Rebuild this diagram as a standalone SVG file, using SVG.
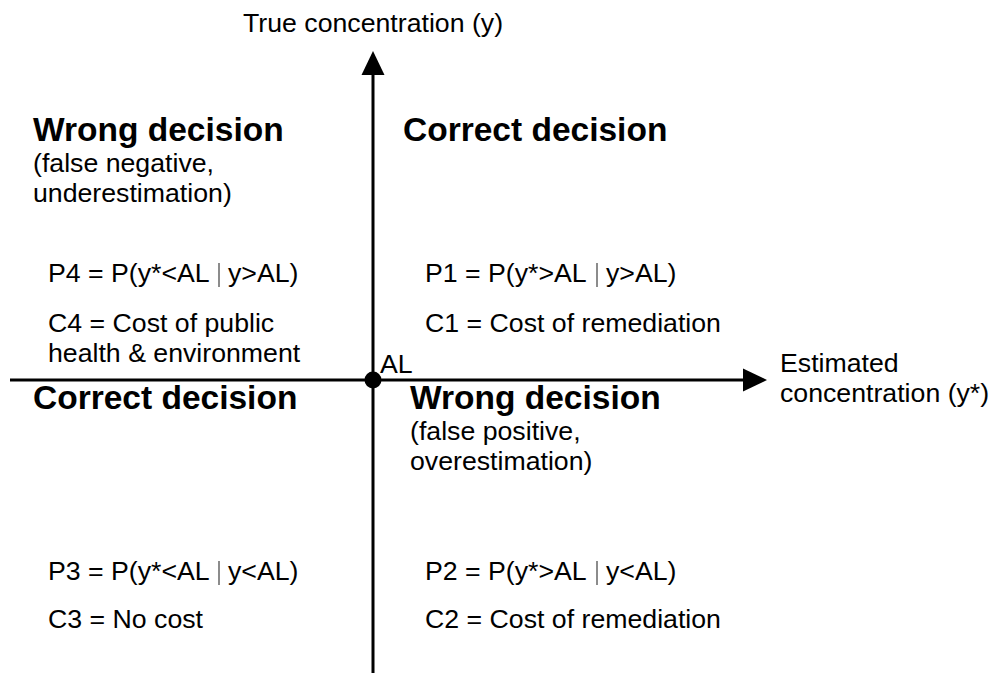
<svg xmlns="http://www.w3.org/2000/svg" width="998" height="673" viewBox="0 0 998 673">
<style>
text{font-family:"Liberation Sans",Arial,sans-serif;fill:#000}
.t{font-size:26.7px}
.b{font-size:33.5px;font-weight:bold}
.axis{stroke:#000;stroke-width:3;fill:none}
.bar{stroke:#666;stroke-width:1.5}
</style>
<rect width="998" height="673" fill="#fff"/>
<g id="connectors">
<line class="axis" x1="373" y1="72" x2="373" y2="673"/>
<polygon points="373,51 361.5,75 384.5,75" fill="#000"/>
<line class="axis" x1="10" y1="380" x2="746" y2="380"/>
<polygon points="767,380 743,368.5 743,391.5" fill="#000"/>
<circle cx="373" cy="380" r="8.5" fill="#000"/>
</g>
<g id="y-axis-label"><text class="t" x="243" y="32">True concentration (y)</text></g>
<g id="x-axis-label"><text class="t" x="780" y="372">Estimated</text><text class="t" x="780" y="402">concentration (y*)</text></g>
<g id="al-label"><text class="t" x="380" y="373">AL</text></g>
<g id="q-top-left">
<text class="b" x="33" y="141">Wrong decision</text>
<text class="t" x="33" y="172">(false negative,</text>
<text class="t" x="33" y="202">underestimation)</text>
<text class="t" x="48" y="282">P4 = P(y*&lt;AL</text>
<line class="bar" x1="219" y1="263" x2="219" y2="287"/>
<text class="t" x="228" y="282">y&gt;AL)</text>
<text class="t" x="48" y="332">C4 = Cost of public</text>
<text class="t" x="48" y="362">health &amp; environment</text>
</g>
<g id="q-top-right">
<text class="b" x="403" y="141">Correct decision</text>
<text class="t" x="425" y="282">P1 = P(y*&gt;AL</text>
<line class="bar" x1="597" y1="263" x2="597" y2="287"/>
<text class="t" x="606" y="282">y&gt;AL)</text>
<text class="t" x="425" y="332">C1 = Cost of remediation</text>
</g>
<g id="q-bottom-left">
<text class="b" x="33" y="409">Correct decision</text>
<text class="t" x="48" y="580">P3 = P(y*&lt;AL</text>
<line class="bar" x1="219" y1="561" x2="219" y2="585"/>
<text class="t" x="228" y="580">y&lt;AL)</text>
<text class="t" x="48" y="628">C3 = No cost</text>
</g>
<g id="q-bottom-right">
<text class="b" x="410" y="409">Wrong decision</text>
<text class="t" x="410" y="440">(false positive,</text>
<text class="t" x="410" y="470">overestimation)</text>
<text class="t" x="425" y="580">P2 = P(y*&gt;AL</text>
<line class="bar" x1="597" y1="561" x2="597" y2="585"/>
<text class="t" x="606" y="580">y&lt;AL)</text>
<text class="t" x="425" y="628">C2 = Cost of remediation</text>
</g>
</svg>
